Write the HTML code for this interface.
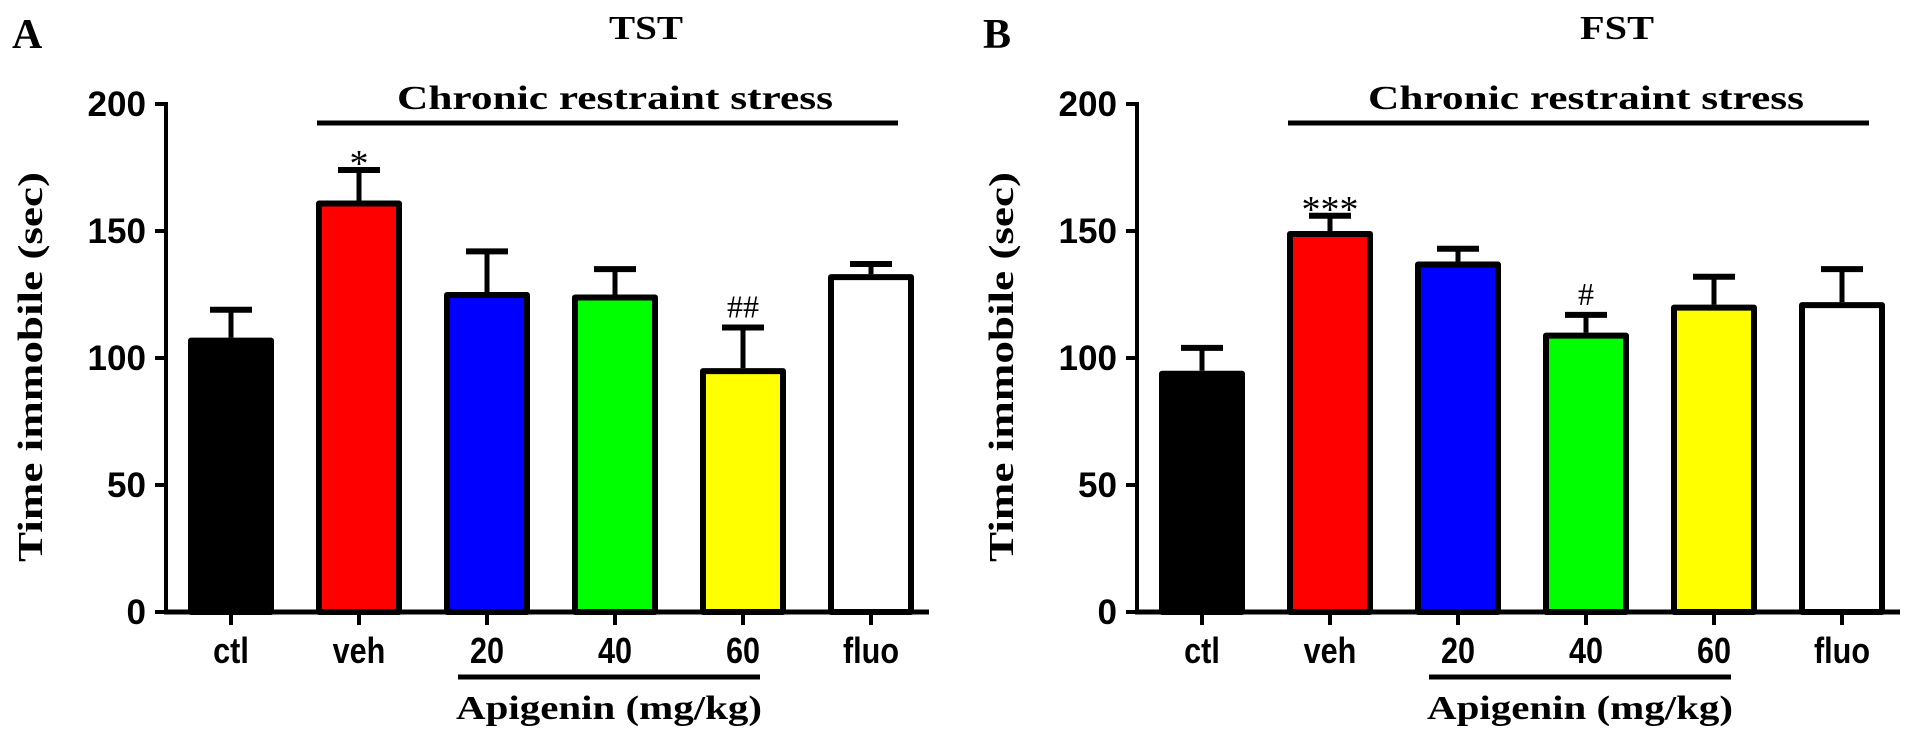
<!DOCTYPE html>
<html><head><meta charset="utf-8"><style>
html,body{margin:0;padding:0;background:#fff;}
svg{display:block;}
</style></head><body>
<svg id="chart" width="1913" height="736" viewBox="0 0 1913 736" xmlns="http://www.w3.org/2000/svg"></svg>
<script>
const categories = ["ctl","veh","20","40","60","fluo"];
const colors = ["#000000","#ff0000","#0000ff","#00ff00","#ffff00","#ffffff"];
const tstMeans = [108,162,126,125,96,133];
const tstErrTops = [119,174,142,135,112,137];
const tstMarks = ["","*","","","##",""];
const fstMeans = [95,150,138,110,121,122];
const fstErrTops = [104,156,143,117,132,135];
const fstMarks = ["","***","","#","",""];
const yTicks = [0,50,100,150,200];

const NS = "http://www.w3.org/2000/svg";
const svg = document.getElementById("chart");
function mk(tag, attrs, parent, text){
  const e = document.createElementNS(NS, tag);
  for (const k in attrs) e.setAttribute(k, attrs[k]);
  if (text !== undefined) e.textContent = text;
  (parent||svg).appendChild(e);
  return e;
}
const Y0 = 612, YTOP = 104, YMAX = 200;
function yScale(v){ return Y0 - (v / YMAX) * (Y0 - YTOP); }

function panel(ox, letter, title, means, errs, marks, key){
  const g = mk("g", {});
  
  
  const axisX = ox + 166;
  const xCenter = i => ox + 231 + i * 128;
  const bw = 86;

  let t = mk("text",{x:ox+12,y:48,"font-family":"Liberation Serif, serif","font-weight":"bold","font-size":42},g,letter);
  
  
  t = mk("text",{x:ox+646,y:39,"text-anchor":"middle","font-family":"Liberation Serif, serif","font-weight":"bold","font-size":34,textLength:74,lengthAdjust:"spacingAndGlyphs"},g,title);
  
  
  t = mk("text",{x:ox+615,y:109,"text-anchor":"middle","font-family":"Liberation Serif, serif","font-weight":"bold","font-size":34,textLength:436,lengthAdjust:"spacingAndGlyphs"},g,"Chronic restraint stress");
  
  
  let l = mk("line",{x1:ox+317,x2:ox+898,y1:123,y2:123,stroke:"#000","stroke-width":5},g);
  
  

  t = mk("text",{x:0,y:0,transform:`translate(${ox+42},367) rotate(-90)`,"text-anchor":"middle","font-family":"Liberation Serif, serif","font-weight":"bold","font-size":35,textLength:390,lengthAdjust:"spacingAndGlyphs"},g,"Time immobile (sec)");
  
  

  means.forEach((v,i)=>{
    const cx = xCenter(i);
    const et = yScale(errs[i]);
    let e = mk("line",{x1:cx,x2:cx,y1:yScale(v),y2:et,stroke:"#000","stroke-width":5},g);
    
    
    e = mk("line",{x1:cx-21,x2:cx+21,y1:et,y2:et,stroke:"#000","stroke-width":6},g);
    
    
    const b = mk("rect",{x:cx-bw/2+3,y:yScale(v)+3,width:bw-6,height:Y0-yScale(v)-3,fill:colors[i],stroke:"#000","stroke-width":6,"stroke-linejoin":"round"},g);
    
    
    if (marks[i]) {
      const star = marks[i].includes("*");
      const m = mk("text",{x:cx,y:et-(star?-6:10),"text-anchor":"middle","font-family":"Liberation Serif, serif","font-size":star?38:32},g,marks[i]);
      
      
    }
    const tk = mk("line",{x1:cx,x2:cx,y1:Y0,y2:Y0+13,stroke:"#000","stroke-width":4},g);
    
    
    const lb = mk("text",{x:0,y:0,transform:`translate(${cx},663) scale(0.85,1)`,"text-anchor":"middle","font-family":"Liberation Sans, sans-serif","font-weight":"bold","font-size":36},g,categories[i]);
    
    
  });

  l = mk("line",{x1:axisX,x2:axisX,y1:YTOP-2,y2:Y0+2,stroke:"#000","stroke-width":4},g);
  
  
  l = mk("line",{x1:axisX-2,x2:ox+929,y1:Y0,y2:Y0,stroke:"#000","stroke-width":5},g);
  
  
  yTicks.forEach(v=>{
    const y = yScale(v);
    const tk = mk("line",{x1:axisX-11,x2:axisX,y1:y,y2:y,stroke:"#000","stroke-width":4},g);
    
    
    const s = String(v);
    const lb = mk("text",{x:axisX-20,y:y+12,"text-anchor":"end","font-family":"Liberation Sans, sans-serif","font-weight":"bold","font-size":35,textLength:s.length*19.5,lengthAdjust:"spacingAndGlyphs"},g,s);
    
    
  });

  l = mk("line",{x1:ox+458,x2:ox+760,y1:677,y2:677,stroke:"#000","stroke-width":5},g);
  
  
  t = mk("text",{x:ox+609,y:719,"text-anchor":"middle","font-family":"Liberation Serif, serif","font-weight":"bold","font-size":34,textLength:306,lengthAdjust:"spacingAndGlyphs"},g,"Apigenin (mg/kg)");
  
  
}
panel(0,"A","TST",tstMeans,tstErrTops,tstMarks,"tst");
panel(971,"B","FST",fstMeans,fstErrTops,fstMarks,"fst");
</script>
</body></html>
